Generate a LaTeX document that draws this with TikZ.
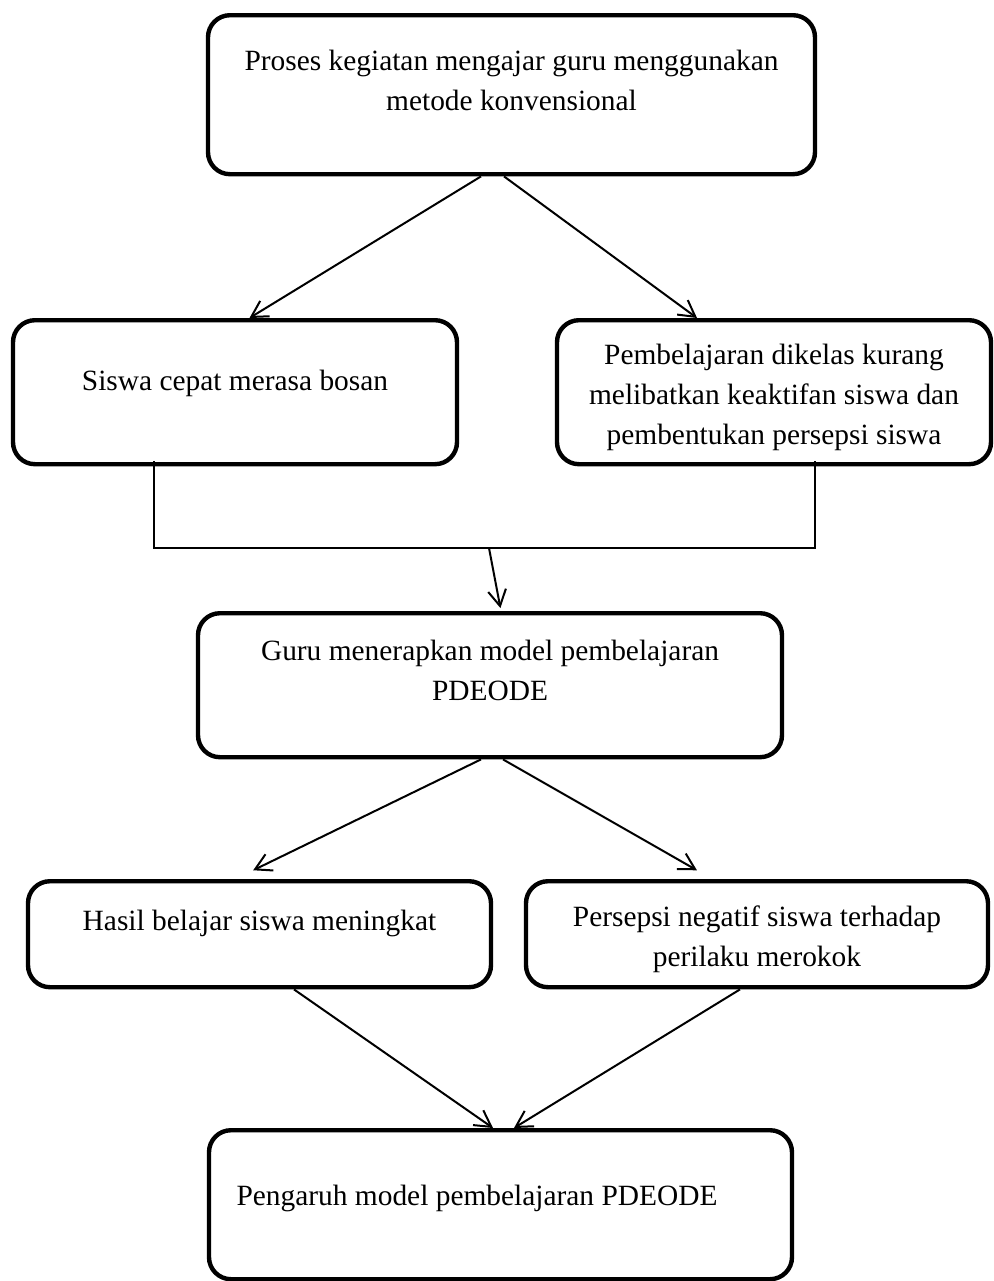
\documentclass[tikz,border=0pt]{standalone}
\usepackage{fontspec}
\setmainfont{Liberation Serif}
\usepackage{tikz}
\usetikzlibrary{arrows.meta,calc,positioning}

\begin{document}
\begin{tikzpicture}[
    x=0.5pt, y=-0.5pt,
    font=\fontsize{14.7}{20}\selectfont,
    box/.style={draw, line width=2.2pt, rounded corners=11pt, inner sep=0pt, align=center, anchor=north},
    arr/.style={-{Straight Barb[length=8pt,width=9pt]}, line width=1pt},
    ln/.style={line width=1pt},
  ]
    \useasboundingbox (0,0) rectangle (993,1281);

    % Top
    \node[box, minimum width=303.5pt, text height=47.5pt, text depth=32pt] (proses) at (511.5,13)
      {Proses kegiatan mengajar guru menggunakan\\metode konvensional};

    % Second row
    \node[box, minimum width=222pt, text height=35pt, text depth=37pt] (bosan) at (235,318)
      {Siswa cepat merasa bosan};
    \node[box, minimum width=217pt, text height=62pt, text depth=10pt] (pasif) at (774,318)
      {Pembelajaran dikelas kurang\\melibatkan keaktifan siswa dan\\pembentukan persepsi siswa};

    % Middle
    \node[box, minimum width=292pt, text height=43.5pt, text depth=28.5pt] (pdeode) at (490,611)
      {Guru menerapkan model pembelajaran\\PDEODE};

    % Fourth row
    \node[box, minimum width=231.5pt, text height=24.5pt, text depth=28.5pt] (hasil) at (259.5,879)
      {Hasil belajar siswa meningkat};
    \node[box, minimum width=231pt, text height=42.5pt, text depth=10.5pt] (persepsi) at (757,879)
      {Persepsi negatif siswa terhadap\\perilaku merokok};

    % Bottom
    \node[box, minimum width=291.5pt, text height=37.5pt, text depth=37pt] (pengaruh) at (500.5,1128)
      {Pengaruh model pembelajaran PDEODE\hspace*{23.5pt}};

    % Arrows
    \draw[arr] ([xshift=-15.25pt]proses.south) -- ([xshift=7.25pt]bosan.north);
    \draw[arr] ([xshift=-3.75pt]proses.south) -- ([xshift=-38.5pt]pasif.north);

    \coordinate (gabung) at (489,548);
    \draw[ln] ([xshift=-40.5pt,yshift=2.5pt]bosan.south) |- (gabung)
      -| ([xshift=20.5pt,yshift=2.5pt]pasif.south);
    \draw[arr, shorten >=1.5pt] (gabung) -- ([xshift=5.5pt]pdeode.north);

    \draw[arr, shorten >=10pt] ([xshift=-4.5pt]pdeode.south) -- ([xshift=-12.15pt]hasil.north);
    \draw[arr, shorten >=8.8pt] ([xshift=6.5pt]pdeode.south) -- ([xshift=-22.4pt]persepsi.north);

    \draw[arr] ([xshift=17.25pt]hasil.south) -- ([xshift=-3.75pt]pengaruh.north);
    \draw[arr] ([xshift=-8.5pt]persepsi.south) -- ([xshift=6.75pt]pengaruh.north);
  \end{tikzpicture}
\end{document}
